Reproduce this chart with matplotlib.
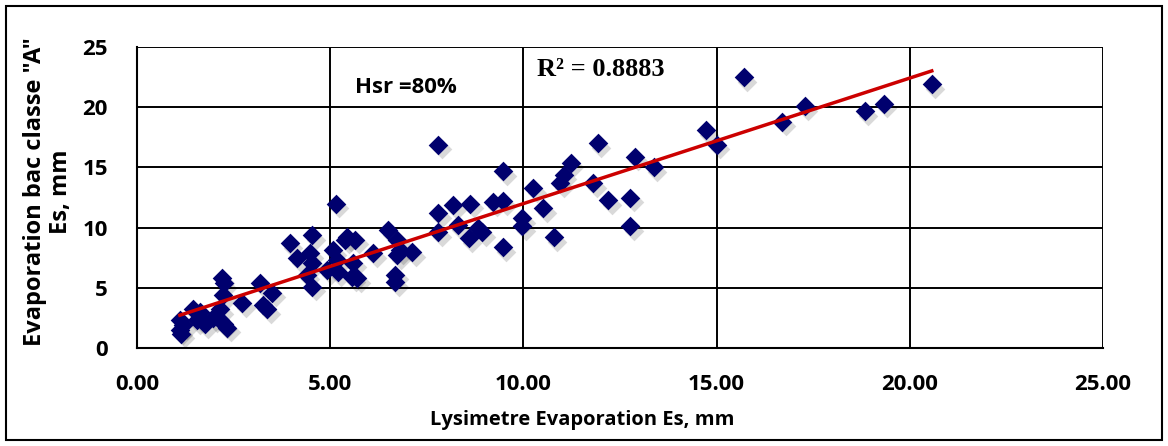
import matplotlib.pyplot as plt
import numpy as np
from matplotlib.patches import Rectangle

# lectures du graphique (Es lysimetre, Es bac classe A)
lysimetre = [1.11, 1.11, 1.15, 1.2, 1.45, 1.63, 1.55, 1.75, 1.97, 2.2, 2.25, 2.23, 2.15, 2.15,
             2.33, 2.25, 2.72, 3.19, 3.5, 3.37, 3.27, 3.96, 4.53, 4.15, 4.48, 4.53, 4.4, 4.53,
             4.92, 5.18, 5.15, 5.08, 5.39, 5.44, 5.65, 5.2, 5.57, 5.7, 5.6, 6.11, 6.5, 6.73,
             6.73, 7.12, 6.68, 6.68, 6.8, 7.8, 8.19, 8.63, 7.8, 8.3, 8.58, 8.94, 8.83, 9.46,
             9.22, 9.48, 9.97, 9.97, 7.8, 9.48, 10.26, 10.52, 10.78, 10.96, 11.04, 11.22,
             11.81, 11.92, 12.2, 12.77, 12.77, 12.88, 13.37, 15.7, 14.72, 15.0, 16.7, 17.28,
             18.83, 19.33, 20.57]
bac_a = [2.3, 1.5, 1.2, 1.9, 3.2, 3.0, 2.3, 2.0, 2.5, 5.8, 5.4, 4.4, 3.2, 2.3,
         1.7, 2.0, 3.7, 5.4, 4.6, 3.2, 3.6, 8.7, 9.4, 7.5, 7.9, 7.1, 6.1, 5.1,
         6.5, 7.3, 12.0, 8.1, 9.0, 9.2, 9.0, 6.3, 5.9, 5.8, 7.1, 7.9, 9.8, 9.0,
         7.7, 8.0, 6.1, 5.5, 8.1, 11.2, 11.9, 12.0, 9.6, 10.2, 9.1, 9.6, 10.0, 8.4,
         12.1, 12.2, 10.8, 10.1, 16.9, 14.7, 13.3, 11.6, 9.2, 13.7, 14.4, 15.4,
         13.7, 17.0, 12.3, 12.5, 10.1, 15.9, 15.0, 22.5, 18.1, 16.9, 18.8, 20.1,
         19.7, 20.3, 21.9]

x = np.array(lysimetre)
y = np.array(bac_a)

police = 'Open Sans'

fig = plt.figure(figsize=(11.68, 4.46), dpi=100)
ax = fig.add_axes([0.1173, 0.2197, 0.9443 - 0.1173, 0.8946 - 0.2197])

# ombre des marqueurs
ax.scatter(x + 0.09, y - 0.4, marker='D', s=100, color='#000000', alpha=0.15,
           linewidths=0, zorder=2)
ax.scatter(x, y, marker='D', s=100, color='#00006E', linewidths=0, zorder=3)

# courbe de tendance lineaire
a, b = np.polyfit(x, y, 1)
xl = np.array([x.min(), x.max()])
ax.plot(xl, a * xl + b, color='#CC0000', lw=2.5, zorder=4)

ax.set_xlim(0, 25)
ax.set_ylim(0, 25)
ax.set_xticks(np.arange(0, 26, 5))
ax.set_yticks(np.arange(0, 26, 5))
ax.set_xticklabels([f"{v:.2f}" for v in np.arange(0, 26, 5)])
ax.tick_params(length=0, labelsize=16)
ax.tick_params(axis='x', pad=19)
ax.tick_params(axis='y', pad=21)
for lab in ax.get_xticklabels() + ax.get_yticklabels():
    lab.set_family(police)
    lab.set_fontweight('bold')
ax.grid(True, color='black', lw=1.4)
ax.set_axisbelow(True)
for s in ['top', 'right']:
    ax.spines[s].set_visible(False)
ax.spines['left'].set_linewidth(1.5)
ax.spines['bottom'].set_linewidth(1.5)

ax.set_xlabel('Lysimetre Evaporation Es, mm', fontsize=14.5, fontweight='bold',
              family=police)
ax.xaxis.set_label_coords(0.4607, -0.205)
ax.set_ylabel('Evaporation bac classe "A"\nEs, mm', fontsize=17, fontweight='bold',
              family=police, linespacing=1.1)
ax.yaxis.set_label_coords(-0.066, 0.52)

ax.text(5.65, 21.6, 'Hsr =80%', fontsize=16, fontweight='bold', family=police,
        va='center', ha='left')
ax.text(10.36, 23.1, 'R² = 0.8883', fontsize=19, fontweight='bold',
        family='Liberation Serif', va='center', ha='left')

# cadre exterieur
fig.patches.append(Rectangle((6 / 1168, 6 / 446), 1156 / 1168, 434 / 446,
                             transform=fig.transFigure, fill=False,
                             edgecolor='black', lw=1.5))

fig.savefig('out.png', dpi=100)
